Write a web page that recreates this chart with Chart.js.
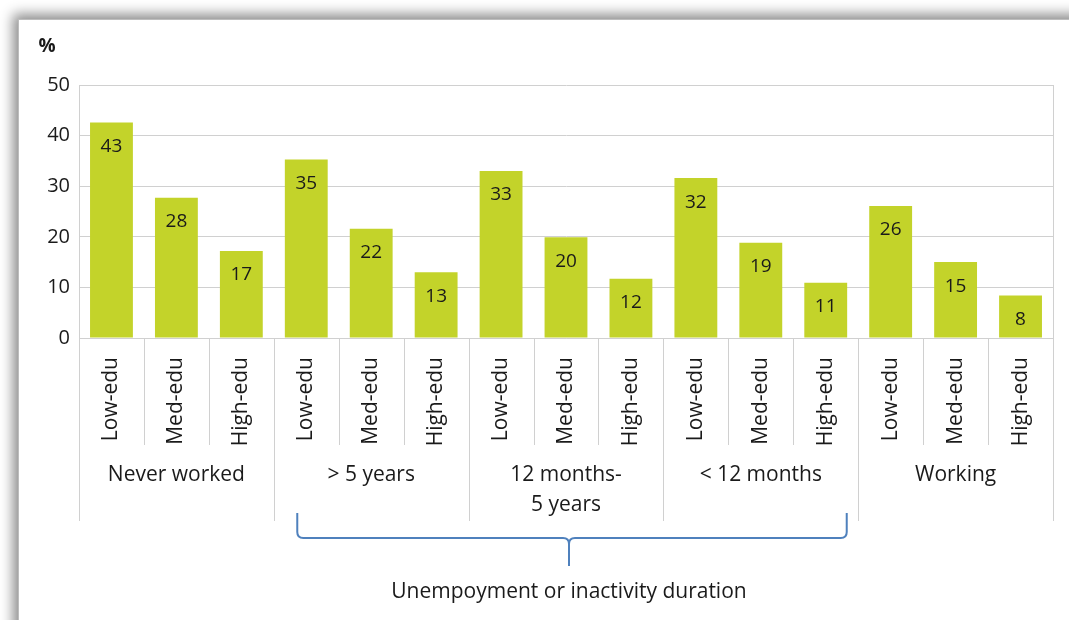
<!DOCTYPE html>
<html>
<head>
<meta charset="utf-8">
<script src="https://cdn.jsdelivr.net/npm/chart.js@4"></script>
<style>
  html, body { margin: 0; padding: 0; background: #ffffff; overflow: hidden; }
  #frame {
    position: absolute; left: 18px; top: 19px; width: 1200px; height: 800px;
    background: #ffffff; border-left: 1px solid #bdbdbd; border-top: 1px solid #bdbdbd;
    box-shadow: -5px -5px 12px rgba(0, 0, 0, 0.45);
  }
  #wrap { position: absolute; left: 0; top: 0; width: 1069px; height: 620px; }
</style>
</head>
<body>
<div id="frame"></div>
<div id="wrap"><canvas id="bar_chart" width="1069" height="620"></canvas></div>
<script>
var FONT = "'Open Sans', Lato, sans-serif";

var eduLabels = ["Low-edu", "Med-edu", "High-edu",
                 "Low-edu", "Med-edu", "High-edu",
                 "Low-edu", "Med-edu", "High-edu",
                 "Low-edu", "Med-edu", "High-edu",
                 "Low-edu", "Med-edu", "High-edu"];
var groupLabels = [["Never worked"], ["> 5 years"], ["12 months-", "5 years"], ["< 12 months"], ["Working"]];
var shares = [42.6, 27.7, 17.2, 35.3, 21.6, 13.0, 33.0, 19.9, 11.7, 31.6, 18.8, 10.9, 26.1, 15.0, 8.4];
var yTicks = [0, 10, 20, 30, 40, 50];
var braceText = "Unempoyment or inactivity duration";

// labels, group separators, brace
var extras = {
    id: 'extras',
    afterDatasetsDraw: function (chart) {
        var ctx = chart.ctx;
        var meta = chart.getDatasetMeta(0);
        ctx.save();
        ctx.font = "19px " + FONT;
        ctx.fillStyle = "#1a1a1a";
        ctx.textAlign = "center";
        ctx.textBaseline = "middle";
        meta.data.forEach(function (bar, i) {
            ctx.fillText(Math.round(shares[i]), bar.x, bar.y + 24);
        });
        ctx.restore();
    },
    afterDraw: function (chart) {
        var ctx = chart.ctx;
        var x = chart.scales.x;
        var area = chart.chartArea;
        var step = x.getPixelForValue(1) - x.getPixelForValue(0);
        ctx.save();
        ctx.strokeStyle = "#d0d0d0";
        ctx.lineWidth = 1;
        for (var i = 0; i <= eduLabels.length; i++) {
            var px = Math.round(x.getPixelForValue(i) - step / 2) + 0.5;
            var bottom = (i % 3 === 0) ? 521 : 445;
            ctx.beginPath();
            ctx.moveTo(px, area.bottom);
            ctx.lineTo(px, bottom);
            ctx.stroke();
        }
        // right border of plot area
        ctx.beginPath();
        ctx.moveTo(Math.round(area.right) + 0.5, area.top);
        ctx.lineTo(Math.round(area.right) + 0.5, area.bottom);
        ctx.stroke();

        ctx.font = "21px " + FONT;
        ctx.fillStyle = "#1a1a1a";
        ctx.textAlign = "center";
        ctx.textBaseline = "middle";
        groupLabels.forEach(function (lines, g) {
            var cx = x.getPixelForValue(g * 3 + 1);
            lines.forEach(function (t, k) {
                ctx.fillText(t, cx, 475 + k * 30);
            });
        });

        // "%" unit
        ctx.font = "bold 19px " + FONT;
        ctx.fillText("%", 47, 47);

        // brace under the unemployment groups
        var bl = x.getPixelForValue(3) - 9;
        var br = x.getPixelForValue(11) + 21;
        var bc = (bl + br) / 2 - 3;
        var top = 513, mid = 538, tip = 566, r = 6;
        ctx.strokeStyle = "#4f81bd";
        ctx.lineWidth = 2;
        ctx.beginPath();
        ctx.moveTo(bl, top);
        ctx.lineTo(bl, mid - r);
        ctx.quadraticCurveTo(bl, mid, bl + r, mid);
        ctx.lineTo(bc - r, mid);
        ctx.quadraticCurveTo(bc, mid, bc, mid + r);
        ctx.lineTo(bc, tip);
        ctx.moveTo(bc, mid + r);
        ctx.quadraticCurveTo(bc, mid, bc + r, mid);
        ctx.lineTo(br - r, mid);
        ctx.quadraticCurveTo(br, mid, br, mid - r);
        ctx.lineTo(br, top);
        ctx.stroke();

        ctx.font = "21px " + FONT;
        ctx.fillStyle = "#1a1a1a";
        ctx.fillText(braceText, bc, 592);
        ctx.restore();
    }
};

new Chart(document.getElementById("bar_chart").getContext("2d"), {
    type: 'bar',
    data: {
        labels: eduLabels,
        datasets: [{
            data: shares,
            backgroundColor: '#c3d32a',
            barPercentage: 0.66,
            categoryPercentage: 1
        }]
    },
    options: {
        responsive: false,
        animation: false,
        layout: { padding: { top: 85, right: 16, bottom: 0, left: 0 } },
        plugins: { legend: false, tooltip: { enabled: false } },
        scales: {
            x: {
                afterFit: function (scale) { scale.height = 282; },
                grid: { display: false },
                border: { color: '#d0d0d0' },
                ticks: {
                    minRotation: 90, maxRotation: 90, padding: 11,
                    color: '#1a1a1a', font: { family: FONT, size: 21 }
                }
            },
            y: {
                min: 0, max: 50,
                afterFit: function (scale) { scale.width = 79; },
                afterBuildTicks: function (scale) {
                    scale.ticks = yTicks.map(function (v) { return { value: v }; });
                },
                grid: { color: '#d0d0d0', drawTicks: false },
                border: { color: '#d0d0d0' },
                ticks: { padding: 9, color: '#1a1a1a', font: { family: FONT, size: 20 } }
            }
        }
    },
    plugins: [extras]
});
</script>
</body>
</html>
